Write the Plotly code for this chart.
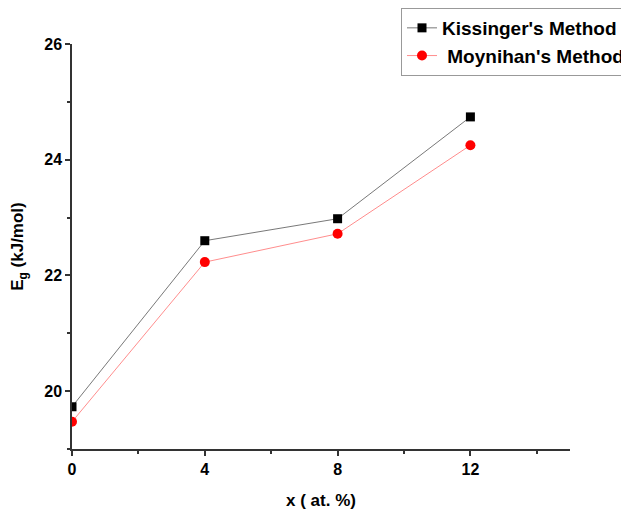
import plotly.graph_objects as go

x_vals = [0, 4, 8, 12]
kissinger = [19.73, 22.60, 22.98, 24.74]
moynihan = [19.47, 22.23, 22.72, 24.25]
x_ticks = [0, 4, 8, 12]
y_ticks = [20, 22, 24, 26]

font_family = "Liberation Sans, Arial, sans-serif"

# page body has an 8px default margin; the figure is sized to fit the window
W, H = 621, 502

fig = go.Figure()
fig.add_trace(go.Scatter(
    x=x_vals, y=kissinger, mode="lines+markers",
    name="Kissinger's Method",
    line=dict(color="#555555", width=0.8),
    marker=dict(symbol="square", size=9, color="black"),
))
fig.add_trace(go.Scatter(
    x=x_vals, y=moynihan, mode="lines+markers",
    name=" Moynihan's Method",
    line=dict(color="#ff7070", width=0.8),
    marker=dict(symbol="circle", size=10, color="#ff0000"),
))

axis_common = dict(
    showline=True, linecolor="#333333", linewidth=1.5,
    ticks="outside", ticklen=5, tickwidth=1.5, tickcolor="#333333",
    showgrid=False, zeroline=False, mirror=False, automargin=False,
    tickfont=dict(family=font_family, size=16, color="black", weight="bold"),
)

fig.update_xaxes(
    range=[0, 15], tickvals=x_ticks,
    minor=dict(dtick=2, tick0=0, ticks="outside", ticklen=3, tickwidth=1.5, tickcolor="#333333"),
    title=dict(text="<b>x ( at. %)</b>", font=dict(family=font_family, size=17, color="black"), standoff=22),
    **axis_common,
)
fig.update_yaxes(
    range=[19, 26], tickvals=y_ticks,
    minor=dict(dtick=1, tick0=19, ticks="outside", ticklen=3, tickwidth=1.5, tickcolor="#333333"),
    title=dict(text="<b>E<sub>g</sub> (kJ/mol)</b>", font=dict(family=font_family, size=17, color="black"), standoff=18),
    **axis_common,
)

fig.update_layout(
    width=W, height=H,
    margin=dict(l=64, r=59, t=36, b=61, autoexpand=False),
    plot_bgcolor="white", paper_bgcolor="white",
    showlegend=True,
    legend=dict(
        xref="container", yref="container",
        x=393 / W, y=1.0, xanchor="left", yanchor="top",
        bgcolor="white", bordercolor="#999999", borderwidth=1,
        font=dict(family=font_family, size=19, color="black", weight="bold"),
        tracegroupgap=0, itemwidth=30,
    ),
)

fig.write_html("out.html")
